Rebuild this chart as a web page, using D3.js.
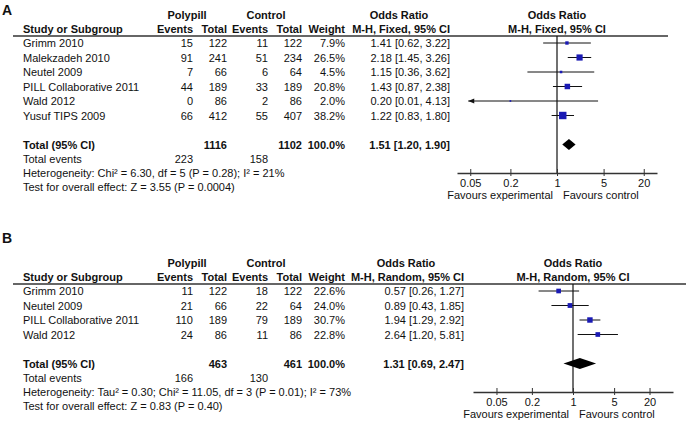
<!DOCTYPE html>
<html>
<head>
<meta charset="utf-8">
<script src="https://cdn.jsdelivr.net/npm/d3@7"></script>
<style>
  body { margin: 0; background: #fff; }
  text { font-family: "Liberation Sans", Arial, sans-serif; font-size: 11px; fill: #111; }
</style>
</head>
<body>
<svg></svg>
<script>
// panel A (fixed effect)
const studiesA   = ["Grimm 2010", "Malekzadeh 2010", "Neutel 2009", "PILL Collaborative 2011", "Wald 2012", "Yusuf TIPS 2009"];
const polyEventsA = [15, 91, 7, 44, 0, 66];
const polyTotalA  = [122, 241, 66, 189, 86, 412];
const ctrlEventsA = [11, 51, 6, 33, 2, 55];
const ctrlTotalA  = [122, 234, 64, 189, 86, 407];
const weightA = [7.9, 26.5, 4.5, 20.8, 2.0, 38.2];
const orA = [1.41, 2.18, 1.15, 1.43, 0.20, 1.22];
const loA = [0.62, 1.45, 0.36, 0.87, 0.01, 0.83];
const hiA = [3.22, 3.26, 3.62, 2.38, 4.13, 1.80];
const totalA = {poly: 1116, ctrl: 1102, polyEv: 223, ctrlEv: 158, or: 1.51, lo: 1.20, hi: 1.90};
const hetA  = "Heterogeneity: Chi\u00b2 = 6.30, df = 5 (P = 0.28); I\u00b2 = 21%";
const testA = "Test for overall effect: Z = 3.55 (P = 0.0004)";

// panel B (random effects)
const studiesB   = ["Grimm 2010", "Neutel 2009", "PILL Collaborative 2011", "Wald 2012"];
const polyEventsB = [11, 21, 110, 24];
const polyTotalB  = [122, 66, 189, 86];
const ctrlEventsB = [18, 22, 79, 11];
const ctrlTotalB  = [122, 64, 189, 86];
const weightB = [22.6, 24.0, 30.7, 22.8];
const orB = [0.57, 0.89, 1.94, 2.64];
const loB = [0.26, 0.43, 1.29, 1.20];
const hiB = [1.27, 1.85, 2.92, 5.81];
const totalB = {poly: 463, ctrl: 461, polyEv: 166, ctrlEv: 130, or: 1.31, lo: 0.69, hi: 2.47};
const hetB  = "Heterogeneity: Tau\u00b2 = 0.30; Chi\u00b2 = 11.05, df = 3 (P = 0.01); I\u00b2 = 73%";
const testB = "Test for overall effect: Z = 0.83 (P = 0.40)";

const tickValues = [0.05, 0.2, 1, 5, 20];

const width = 686;
const height = 423;

const svg = d3.select("svg")
  .attr("width", width)
  .attr("height", height);

const col = {study: 23, ev1: 193, tot1: 227, ev2: 268, tot2: 302, weight: 345};
const rowStep = 14.5;
const fmtOR = (o, l, h) => `${o.toFixed(2)} [${l.toFixed(2)}, ${h.toFixed(2)}]`;

function drawPanel(p) {
  const g = svg.append("g");
  const n = p.studies.length;
  const rowY = i => p.lineY + 11 + i * rowStep;   // text baselines
  const totalY = rowY(n + 1);
  const axisY = totalY + 24.5;

  const x = d3.scaleLog()
    .domain(p.domain)
    .range(p.range);
  const nullX = x(1);

  // panel letter
  g.append("text")
    .attr("x", 2).attr("y", p.labelY)
    .style("font-size", "14px").style("font-weight", "bold")
    .text(p.label);

  // headers
  const bold = (xx, yy, t, anchor) => g.append("text")
    .attr("x", xx).attr("y", yy)
    .attr("text-anchor", anchor)
    .style("font-weight", "bold")
    .text(t);

  bold((col.ev1 + col.tot1) / 2 - 23, p.lineY - 17, "Polypill", "middle");
  bold((col.ev2 + col.tot2) / 2 - 19, p.lineY - 17, "Control", "middle");
  bold(col.study, p.lineY - 3, "Study or Subgroup", "start");
  bold(col.ev1, p.lineY - 3, "Events", "end");
  bold(col.tot1, p.lineY - 3, "Total", "end");
  bold(col.ev2, p.lineY - 3, "Events", "end");
  bold(col.tot2, p.lineY - 3, "Total", "end");
  bold(col.weight, p.lineY - 3, "Weight", "end");
  bold(p.orCenter, p.lineY - 17, "Odds Ratio", "middle");
  bold(p.orRight, p.lineY - 3, p.method, "end");
  bold(nullX, p.lineY - 17, "Odds Ratio", "middle");
  bold(nullX, p.lineY - 3, p.method, "middle");

  g.append("line")
    .attr("x1", 13).attr("x2", p.lineEnd)
    .attr("y1", p.lineY).attr("y2", p.lineY)
    .attr("stroke", "#333").attr("stroke-width", 1.4);

  // study rows
  const rows = g.append("g")
    .selectAll("g")
    .data(p.studies.map((s, i) => ({
      study: s, ev1: p.ev1[i], tot1: p.tot1[i], ev2: p.ev2[i], tot2: p.tot2[i],
      w: p.weight[i], or: p.or[i], lo: p.lo[i], hi: p.hi[i], i: i
    })))
    .enter()
    .append("g")
      .attr("transform", d => `translate(0,${rowY(d.i)})`);

  rows.append("text").attr("x", col.study).text(d => d.study);
  rows.append("text").attr("x", col.ev1).attr("text-anchor", "end").text(d => d.ev1);
  rows.append("text").attr("x", col.tot1).attr("text-anchor", "end").text(d => d.tot1);
  rows.append("text").attr("x", col.ev2).attr("text-anchor", "end").text(d => d.ev2);
  rows.append("text").attr("x", col.tot2).attr("text-anchor", "end").text(d => d.tot2);
  rows.append("text").attr("x", col.weight).attr("text-anchor", "end").text(d => d.w.toFixed(1) + "%");
  rows.append("text").attr("x", p.orRight).attr("text-anchor", "end").text(d => fmtOR(d.or, d.lo, d.hi));

  // null line
  g.append("line")
    .attr("x1", nullX).attr("x2", nullX)
    .attr("y1", p.lineY).attr("y2", axisY)
    .attr("stroke", "#111").attr("stroke-width", 1.2);

  // confidence intervals
  const lowLimit = tickValues[0];
  rows.append("line")
    .attr("x1", d => d.lo < lowLimit ? x(lowLimit) - 2 : x(d.lo))
    .attr("x2", d => x(d.hi))
    .attr("y1", -4).attr("y2", -4)
    .attr("stroke", "#111").attr("stroke-width", 1);

  rows.filter(d => d.lo < lowLimit)
    .append("path")
    .attr("d", () => {
      const ax = x(lowLimit) - 2;
      return `M${ax},-4 L${ax + 6},-6.5 L${ax + 6},-1.5 Z`;
    })
    .attr("fill", "#111");

  rows.append("rect")
    .attr("x", d => x(d.or) - p.sq * Math.sqrt(d.w) / 2)
    .attr("y", d => -4 - p.sq * Math.sqrt(d.w) / 2)
    .attr("width", d => p.sq * Math.sqrt(d.w))
    .attr("height", d => p.sq * Math.sqrt(d.w))
    .attr("fill", "#1a1ab4");

  // totals
  const t = p.total;
  bold(col.study, totalY, "Total (95% CI)", "start");
  bold(col.tot1, totalY, t.poly, "end");
  bold(col.tot2, totalY, t.ctrl, "end");
  bold(col.weight, totalY, "100.0%", "end");
  bold(p.orRight, totalY, fmtOR(t.or, t.lo, t.hi), "end");

  const dy = totalY - 4;
  g.append("path")
    .attr("d", `M${x(t.lo)},${dy} L${x(t.or)},${dy - 5.5} L${x(t.hi)},${dy} L${x(t.or)},${dy + 5.5} Z`)
    .attr("fill", "#000");

  g.append("text").attr("x", col.study).attr("y", rowY(n + 2)).text("Total events");
  g.append("text").attr("x", col.ev1).attr("y", rowY(n + 2)).attr("text-anchor", "end").text(t.polyEv);
  g.append("text").attr("x", col.ev2).attr("y", rowY(n + 2)).attr("text-anchor", "end").text(t.ctrlEv);
  g.append("text").attr("x", col.study).attr("y", rowY(n + 3) - 0.5).text(p.het);
  g.append("text").attr("x", col.study).attr("y", rowY(n + 4) - 1.5).text(p.test);

  // axis
  const axis = d3.axisBottom(x)
    .tickValues(tickValues)
    .tickFormat(d => String(d))
    .tickSizeInner(3)
    .tickSizeOuter(0);

  const ax = g.append("g")
    .attr("transform", `translate(0,${axisY})`)
    .call(axis);
  ax.select(".domain").attr("stroke", "#333").attr("stroke-width", 1.4);
  ax.selectAll(".tick line").attr("y1", -4).attr("y2", 3).attr("stroke", "#333");
  ax.selectAll(".tick text")
    .attr("y", 14).attr("dy", 0)
    .attr("font-family", null).attr("font-size", null)
    .style("fill", "#111");

  g.append("text")
    .attr("x", nullX - 4).attr("y", axisY + 26)
    .attr("text-anchor", "end")
    .text("Favours experimental");
  g.append("text")
    .attr("x", nullX + 6).attr("y", axisY + 26)
    .text("Favours control");
}

drawPanel({
  label: "A", labelY: 15, lineY: 36, lineEnd: 668,
  studies: studiesA, ev1: polyEventsA, tot1: polyTotalA, ev2: ctrlEventsA, tot2: ctrlTotalA,
  weight: weightA, or: orA, lo: loA, hi: hiA, total: totalA, het: hetA, test: testA,
  method: "M-H, Fixed, 95% CI", orRight: 450, orCenter: 399,
  domain: [Math.pow(10, -1.5), Math.pow(10, 1.5)], range: [457, 657], sq: 1.2
});

drawPanel({
  label: "B", labelY: 243, lineY: 284, lineEnd: 686,
  studies: studiesB, ev1: polyEventsB, tot1: polyTotalB, ev2: ctrlEventsB, tot2: ctrlTotalB,
  weight: weightB, or: orB, lo: loB, hi: hiB, total: totalB, het: hetB, test: testB,
  method: "M-H, Random, 95% CI", orRight: 464, orCenter: 406,
  domain: [Math.pow(10, -1.7), Math.pow(10, 1.7)], range: [473, 673], sq: 0.98
});
</script>
</body>
</html>
